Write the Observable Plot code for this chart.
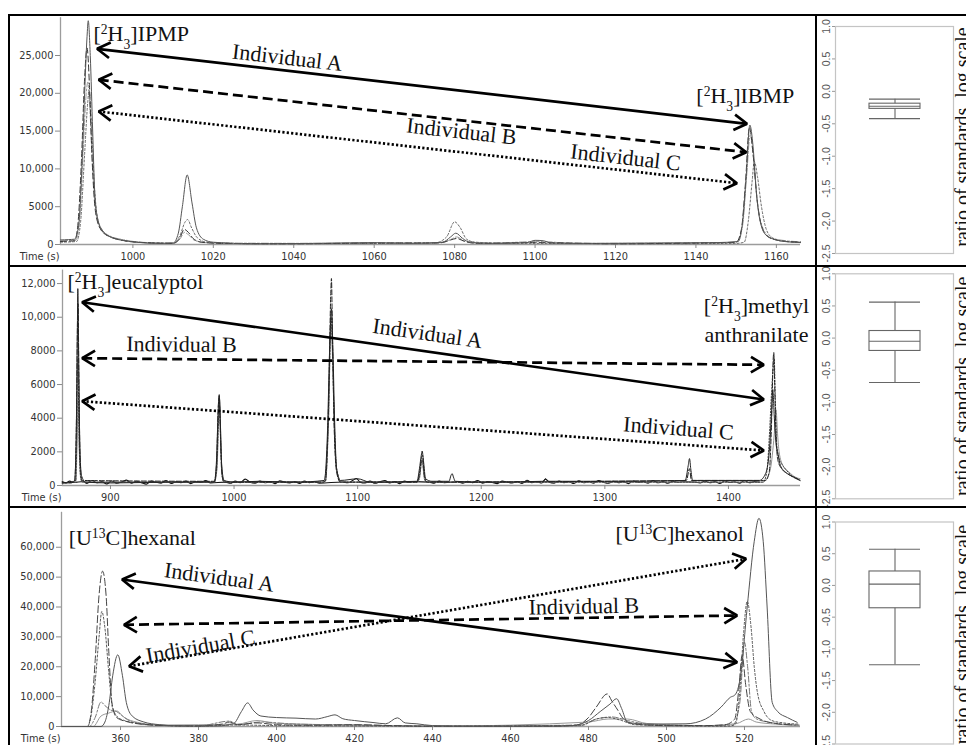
<!DOCTYPE html>
<html><head><meta charset="utf-8">
<script src="https://cdn.jsdelivr.net/npm/d3@7"></script>
<script src="https://cdn.jsdelivr.net/npm/@observablehq/plot@0.6"></script>
<style>
html,body{margin:0;padding:0;background:#fff;overflow:hidden;}
#wrap{position:relative;width:966px;height:745px;overflow:hidden;background:#fff;}
.p{position:absolute;}
.b{position:absolute;background:#000;z-index:5;}
</style></head><body><div id="wrap"></div>
<script>
// ---------------- DATA ----------------
const timeLabel = ["Time (s)"];
const yLabel = ["ratio of standards, log scale"];

// Row 1 ticks
const r1XTicks = [1000,1020,1040,1060,1080,1100,1120,1140,1160];
const r1YTicks = [0,5000,10000,15000,20000,25000];
const r1YLabels = ["0","5000","10,000","15,000","20,000","25,000"];
// Row 2 ticks
const r2XTicks = [900,1000,1100,1200,1300,1400];
const r2YTicks = [0,2000,4000,6000,8000,10000,12000];
const r2YLabels = ["0","2000","4000","6000","8000","10,000","12,000"];
// Row 3 ticks
const r3XTicks = [360,380,400,420,440,460,480,500,520];
const r3YTicks = [0,10000,20000,30000,40000,50000,60000];
const r3YLabels = ["0","10,000","20,000","30,000","40,000","50,000","60,000"];
// Box plot ticks
const boxTicks = [-2.5,-2,-1.5,-1,-0.5,0,0.5,1];
const boxTickLabels = ["-2.5","-2.0","-1.5","-1.0","-0.5","0.0","0.5","1.0"];

// Row 1 traces [time, intensity]
const r1Solid = [[982,600],[984,650],[985.5,700],[986.5,2500],[987.3,10000],[988,20000],[988.6,27500],[988.9,29600],[989.4,25000],[990,15000],[990.5,7000],[991.2,3500],[992.5,1800],[994,1100],[997,600],[1001,300],[1006,150],[1010,200],[1011.3,1500],[1012.3,5000],[1013.5,9200],[1014.7,5500],[1015.8,2200],[1017.5,700],[1020,300],[1030,100],[1045,150],[1060,250],[1070,150],[1077,300],[1079,1000],[1080.3,1500],[1082,800],[1084,250],[1090,150],[1098,250],[1100,550],[1102,500],[1104,200],[1115,150],[1130,200],[1145,250],[1150.5,400],[1151.5,2500],[1152.5,9000],[1153.4,15800],[1154.2,13000],[1155,7000],[1156,3000],[1157.5,1200],[1160,600],[1163,350],[1166,250]];
const r1Dashed = [[982,400],[985.5,500],[986.3,2500],[987.2,11000],[988,22000],[988.6,26000],[989.2,21000],[989.8,12000],[990.4,6000],[991.2,3000],[992.5,1700],[994.5,1000],[998,500],[1003,250],[1010,150],[1011.5,700],[1012.8,2000],[1013.8,1600],[1015,800],[1017,300],[1022,150],[1040,100],[1060,200],[1076,200],[1079,600],[1080.5,800],[1082.5,400],[1086,150],[1100,250],[1120,100],[1140,200],[1150,300],[1151.3,2000],[1152.3,8000],[1153.3,15500],[1154.2,12000],[1155.2,6000],[1156.3,2500],[1158,1000],[1161,500],[1166,300]];
const r1Dotted = [[982,300],[986,400],[987,3000],[988,12000],[988.8,19000],[989.1,20400],[989.7,16000],[990.4,8000],[991.2,3500],[992.5,1600],[995,900],[999,400],[1005,200],[1010,150],[1011.7,1200],[1013,3000],[1013.6,3300],[1014.6,2200],[1016,900],[1018.5,300],[1030,100],[1060,150],[1075,200],[1078,1000],[1080,3000],[1081.3,2300],[1083,700],[1086,200],[1100,150],[1130,100],[1150,150],[1152,300],[1153,3000],[1154,8500],[1154.5,11000],[1155.3,9000],[1156.3,5000],[1157.5,2000],[1159,900],[1162,400],[1166,300]];
const r1DashDot = [[982,500],[985.8,600],[986.7,3000],[987.6,12000],[988.4,20000],[988.8,21500],[989.4,17000],[990.1,9000],[990.8,4500],[992,2200],[994,1200],[998,600],[1004,250],[1010,200],[1011.8,800],[1012.8,1600],[1013.8,1300],[1015.5,500],[1020,200],[1050,150],[1077,250],[1079.5,800],[1080.5,1000],[1082.5,500],[1090,200],[1101,400],[1110,150],[1150,250],[1151.6,2500],[1152.6,9000],[1153.5,14500],[1154.4,11000],[1155.4,5000],[1156.8,2000],[1159,800],[1166,350]];

// Row 2 traces
const r2Solid = [[861,200],[868,150],[871,300],[872.3,3000],[873.2,9000],[873.6,11700],[874.2,8000],[875.2,2500],[876.5,600],[880,200],[900,150],[950,200],[984,200],[985.8,1500],[987.2,4500],[988,5400],[988.8,4000],[990,1200],[992,300],[1000,200],[1020,250],[1050,200],[1073,300],[1075.5,3000],[1077.5,8500],[1078.8,10500],[1080,8000],[1081.5,3500],[1083,1000],[1086,300],[1100,400],[1110,200],[1148,250],[1150,1000],[1151.5,1800],[1152.2,2050],[1153.2,1500],[1155,400],[1160,250],[1174,250],[1175.5,600],[1176.5,700],[1177.5,500],[1179,250],[1200,200],[1250,250],[1252,400],[1254,250],[1300,250],[1365,300],[1367.5,1200],[1368.5,1600],[1369.5,1000],[1371,300],[1425,300],[1430,700],[1433,2000],[1435,4500],[1435.9,5700],[1437,4200],[1438.5,2500],[1440,1900],[1442,1200],[1446,800],[1450,600],[1455.5,400],[1458,300]];
const r2Dashed = [[861,150],[871,200],[872.5,4000],[873.4,10000],[873.8,10800],[874.5,6000],[875.5,1500],[877,300],[984,250],[985.8,1200],[987.3,4800],[988,5300],[988.8,3500],[990,800],[992,200],[1072,200],[1074,300],[1076.5,5000],[1078.3,11500],[1078.8,12300],[1079.6,9000],[1081,3500],[1083,800],[1086,200],[1148,200],[1150,700],[1151.8,1700],[1152.5,1800],[1154,600],[1156,200],[1366,300],[1368.5,1000],[1370,300],[1430,300],[1433,800],[1435,4000],[1436.2,7500],[1436.7,7900],[1437.4,6000],[1438.5,3000],[1440,1500],[1443,1000],[1448,700],[1455,400],[1458,300]];
const r2Dotted = [[861,150],[872,300],[872.8,3000],[873.6,7500],[874.4,4000],[875.5,800],[877,200],[984,200],[986,1000],[987.5,4000],[988.2,4800],[989,3000],[990.5,500],[992,200],[1072,200],[1074,250],[1076.5,4000],[1078.5,10000],[1079.5,8500],[1081,4000],[1083,1000],[1087,200],[1148,200],[1150,500],[1152.2,1500],[1154,400],[1156,200],[1428,200],[1431,800],[1433.5,3500],[1434.5,5000],[1436.2,7000],[1437,7600],[1437.8,5500],[1439,2500],[1441,1600],[1443,1300],[1447,900],[1451,600],[1456,400],[1458,300]];
const r2Gray = [[861,150],[872,200],[873,2500],[873.8,5000],[874.6,2500],[876,400],[878,200],[984,200],[986.2,1000],[987.8,4500],[988.4,5100],[989.2,3000],[990.5,500],[992,200],[1071,200],[1073,300],[1076,3000],[1078.5,9500],[1079.5,8000],[1081.5,2500],[1084,500],[1087,200],[1148,200],[1150,400],[1152,1600],[1153.5,800],[1155,200],[1428,200],[1430,300],[1434,1000],[1437,3000],[1438.5,4500],[1439.8,3000],[1441,2000],[1444,1200],[1449,800],[1454,500],[1458,400]];
const r2Noise = [[861,220],[864,150],[867,260],[870,180],[878,240],[881,120],[885,300],[889,160],[893,230],[897,90],[901,270],[905,140],[909,210],[913,320],[917,130],[921,250],[925,170],[929,80],[933,260],[937,190],[941,140],[945,300],[949,120],[953,220],[957,170],[961,260],[965,110],[969,230],[973,180],[977,290],[981,150],[993,200],[997,130],[1001,260],[1005,170],[1009,380],[1013,200],[1017,140],[1021,270],[1025,160],[1029,230],[1033,110],[1037,280],[1041,190],[1045,150],[1049,240],[1053,120],[1057,260],[1061,170],[1065,220],[1069,140],[1088,210],[1092,160],[1096,300],[1099,420],[1102,200],[1106,150],[1110,260],[1114,130],[1118,220],[1122,300],[1126,150],[1130,240],[1134,110],[1138,260],[1142,180],[1146,230],[1158,200],[1162,140],[1166,260],[1170,170],[1181,220],[1185,130],[1189,250],[1193,170],[1197,300],[1201,140],[1205,230],[1209,180],[1213,110],[1217,260],[1221,200],[1225,150],[1229,240],[1233,120],[1237,310],[1241,170],[1245,220],[1249,150],[1252,380],[1255,200],[1259,140],[1263,260],[1267,170],[1271,220],[1275,120],[1279,280],[1283,160],[1287,230],[1291,140],[1295,300],[1299,190],[1303,130],[1307,250],[1311,170],[1315,230],[1319,110],[1323,270],[1327,180],[1331,220],[1335,140],[1339,290],[1343,160],[1347,230],[1351,130],[1355,250],[1359,190],[1363,220],[1373,200],[1377,150],[1381,260],[1385,170],[1389,230],[1393,120],[1397,270],[1401,180],[1405,220],[1409,140],[1413,280],[1417,170],[1421,230],[1425,200]];

// Row 3 traces
const r3Solid = [[345,0],[355,0],[356,1500],[357,7000],[358,17000],[359.3,24000],[360.5,17000],[361.5,8000],[363,3500],[366,1500],[370,600],[375,200],[385,200],[389,1000],[391,5000],[392.6,7900],[394,5500],[396,3500],[400,3000],[405,2800],[410,2500],[413,3300],[415,3900],[417,2600],[420,2000],[425,1300],[428,900],[431,2900],[433,1200],[436,900],[440,300],[450,100],[470,100],[476,300],[480,2000],[483,5000],[485.5,7500],[487.2,9300],[488.5,6000],[490,1400],[495,800],[505,900],[510,2500],[514,6500],[516.4,9800],[517.5,10500],[519,17000],[520.7,40000],[522.5,62000],[523.7,69700],[524.8,62000],[525.8,40000],[527.1,8100],[528.5,5000],[531,3000],[533.5,1400]];
const r3Dashed = [[345,0],[351.5,0],[352.5,5000],[353.5,22000],[354.5,44000],[355.4,52000],[356.3,44000],[357,25000],[357.8,8000],[359,3000],[362,1500],[366,700],[372,300],[380,200],[386,800],[388,1500],[390,600],[395,1200],[400,600],[410,400],[420,600],[430,300],[440,100],[470,100],[477,500],[480,3000],[482,6500],[484.8,10900],[486,8500],[487.5,5500],[489,2500],[492,800],[500,300],[510,300],[515,600],[517.5,2500],[518.5,12000],[519.4,23800],[520.3,14000],[521.5,5000],[524,2500],[528,1000],[533,500]];
const r3Dotted = [[345,0],[351.5,0],[352.5,4000],[353.5,15000],[354.5,30000],[355.2,38500],[356,33000],[357,18000],[358,6000],[360,2500],[365,1000],[372,300],[380,100],[390,500],[400,300],[420,200],[440,100],[478,300],[482,2500],[485,3000],[488,2200],[492,600],[505,200],[516,100],[517.7,800],[518.8,12000],[519.8,32000],[520.7,41900],[521.7,33000],[522.5,20000],[523.3,11500],[525,5000],[527,2000],[530,1200],[534,800]];
const r3DashDot = [[345,0],[352,0],[353.5,3000],[355,8200],[356,7000],[357.5,5500],[359,5000],[360.5,3500],[363,1500],[368,500],[380,200],[388,1800],[390,600],[396,1500],[405,800],[420,500],[440,100],[478,500],[482,2500],[486,3200],[490,2000],[495,800],[510,300],[517,500],[518.8,8000],[520,28200],[520.8,20000],[521.8,5000],[523,2600],[526,1500],[530,800],[534,500]];
const r3Light = [[345,0],[353,0],[355,3500],[357,4500],[359,5200],[361,3000],[364,1500],[370,500],[390,800],[395,2000],[400,1000],[420,500],[440,100],[480,1500],[485,2500],[490,2500],[495,1000],[510,300],[518,1000],[521,2500],[523,1500],[528,800],[534,300]];

// Arrows (double headed): start / end in data units
const r1Arrows = [
  {style:"solid",  x1:991.1, y1:25886, x2:1152.7, y2:15966},
  {style:"dashed", x1:991.5, y1:21786, x2:1152.5, y2:12209},
  {style:"dotted", x1:991.5, y1:17593, x2:1150.2, y2:8108}];
const r2Arrows = [
  {style:"solid",  x1:877.1, y1:10891, x2:1428.6, y2:5110},
  {style:"dashed", x1:877.1, y1:7564,  x2:1428.6, y2:7172},
  {style:"dotted", x1:877.1, y1:5009,  x2:1428.6, y2:2080}];
const r3Arrows = [
  {style:"solid",  x1:360.4, y1:49197, x2:518.1, y2:21519},
  {style:"dashed", x1:360.9, y1:34036, x2:518.1, y2:37149},
  {style:"dotted", x1:362.2, y1:20181, x2:520.4, y2:56124}];

// Text labels
const r1Labels = [
  {text:"[²H₃]IPMP", t:990.2, v:26984, kind:"name", anchor:"start", rot:0},
  {text:"[²H₃]IBMP", t:1140.1, v:18651, kind:"name", anchor:"start", rot:0},
  {text:"Individual A", t:1038.4, v:24700, kind:"ind", rot:6.6},
  {text:"Individual B", t:1081.7, v:14947, kind:"ind", rot:6.4},
  {text:"Individual C", t:1122.5, v:11508, kind:"ind", rot:6.4}];
const r2Labels = [
  {text:"[²H₃]eucalyptol", t:865.2, v:11705, kind:"name", anchor:"start", rot:0},
  {text:"[²H₃]methyl", t:1422.7, v:10250, kind:"name", anchor:"middle", rot:0},
  {text:"anthranilate", t:1422.7, v:8556, kind:"name", anchor:"middle", rot:0},
  {text:"Individual A", t:1156.5, v:9031, kind:"ind", rot:8.1},
  {text:"Individual B", t:957.5, v:8378, kind:"ind", rot:0.5},
  {text:"Individual C", t:1359.6, v:3387, kind:"ind", rot:4.5}];
const r3Labels = [
  {text:"[U¹³C]hexanal", t:346.7, v:60810, kind:"name", anchor:"start", rot:0},
  {text:"[U¹³C]hexanol", t:486.9, v:62249, kind:"name", anchor:"start", rot:0},
  {text:"Individual A", t:385.3, v:49866, kind:"ind", rot:7.7},
  {text:"Individual B", t:478.8, v:40161, kind:"ind", rot:-1},
  {text:"Individual C", t:380.5, v:26774, kind:"ind", rot:-9.9}];

// Box plot summaries (log ratio)
const box1 = {lo:-0.42, q1:-0.27, med:-0.23, q3:-0.19, hi:-0.12};
const box2 = {lo:-0.69, q1:-0.20, med:-0.05, q3:0.11, hi:0.56};
const box3 = {lo:-1.25, q1:-0.36, med:0.02, q3:0.22, hi:0.57};

// ---------------- RENDERING ----------------
const SERIF = "'Liberation Serif','Times New Roman',serif";
const SANS = "'DejaVu Sans',Verdana,sans-serif";
const dashOf = {solid:null, dashed:"10,5", dotted:"2.2,2.2"};
const wrap = document.getElementById("wrap");

function place(el, left, top) {
  el.classList.add("p");
  el.style.left = left + "px"; el.style.top = top + "px";
  wrap.appendChild(el);
}

function headsFor(arrows, X, Y, len, ang) {
  const fx = v => X.px[0] + (v - X.domain[0]) * (X.px[1]-X.px[0])/(X.domain[1]-X.domain[0]);
  const gx = p => X.domain[0] + (p - X.px[0]) * (X.domain[1]-X.domain[0])/(X.px[1]-X.px[0]);
  const fy = v => Y.px[0] + (v - Y.domain[0]) * (Y.px[1]-Y.px[0])/(Y.domain[1]-Y.domain[0]);
  const gy = p => Y.domain[0] + (p - Y.px[0]) * (Y.domain[1]-Y.domain[0])/(Y.px[1]-Y.px[0]);
  const out = [];
  const r = ang * Math.PI / 180;
  arrows.forEach((a, i) => {
    [[a.x1,a.y1,a.x2,a.y2],[a.x2,a.y2,a.x1,a.y1]].forEach(([tx,ty,ox,oy], j) => {
      const px = fx(tx), py = fy(ty), qx = fx(ox), qy = fy(oy);
      const L = Math.hypot(qx-px, qy-py), ux = (qx-px)/L, uy = (qy-py)/L;
      const w = s => [px + len*(ux*Math.cos(s*r) - uy*Math.sin(s*r)), py + len*(ux*Math.sin(s*r) + uy*Math.cos(s*r))];
      const [ax, ay] = w(1), [bx, by] = w(-1);
      const id = i + "-" + j;
      out.push({id, t:gx(ax), v:gy(ay)}, {id, t:tx, v:ty}, {id, t:gx(bx), v:gy(by)});
    });
  });
  return out;
}

const SVGNS = "http://www.w3.org/2000/svg";
function richText(svg) {
  for (const t of svg.querySelectorAll("text")) {
    const s = t.textContent;
    if (!/[¹²³₃]/.test(s) || t.children.length) continue;
    t.textContent = "";
    for (const seg of s.match(/[¹²³]+|₃+|[^¹²³₃]+/g)) {
      const ts = document.createElementNS(SVGNS, "tspan");
      if (/[¹²³]/.test(seg)) {
        ts.textContent = seg.replace(/¹/g,"1").replace(/²/g,"2").replace(/³/g,"3");
        ts.style.fontSize = "62%"; ts.setAttribute("baseline-shift", "super");
      } else if (/₃/.test(seg)) {
        ts.textContent = seg.replace(/₃/g,"3");
        ts.style.fontSize = "62%"; ts.setAttribute("baseline-shift", "sub");
      } else ts.textContent = seg;
      t.appendChild(ts);
    }
  }
}

function chromPlot(P) {
  const X = P.x, Y = P.y;
  const yMap = new Map(P.yTicks.map((d, i) => [d, P.yLabels[i]]));
  const marks = [
    Plot.ruleY([Y.domain[0]], {stroke:"#9c9c9c", strokeWidth:1.3}),
    Plot.ruleX([X.domain[0]], {stroke:"#9c9c9c", strokeWidth:1.3}),
    Plot.axisX({ticks:P.xTicks, tickSize:4, tickPadding:5, stroke:"#8a8a8a", fill:"#333", label:null, tickFormat:d => String(d)}),
    Plot.axisY({ticks:P.yTicks, tickSize:5, tickPadding:2, stroke:"#8a8a8a", fill:"#333", label:null, tickFormat:d => yMap.get(d)}),
    Plot.text(timeLabel, {frameAnchor:"bottom-left", text:d => d, textAnchor:"end", lineAnchor:"top", dx:-1, dy:9, fill:"#333"})
  ];
  for (const tr of P.traces) {
    marks.push(Plot.line(tr.data, {x:d => d[0], y:d => d[1], stroke:tr.color, strokeWidth:tr.w, strokeDasharray:tr.dash, curve:"monotone-x"}));
  }
  for (const a of P.arrows) {
    marks.push(Plot.link([a], {x1:"x1", y1:"y1", x2:"x2", y2:"y2", stroke:"#000", strokeWidth:2.7, strokeDasharray:dashOf[a.style]}));
  }
  marks.push(Plot.line(headsFor(P.arrows, X, Y, 15, 31), {x:"t", y:"v", z:"id", stroke:"#000", strokeWidth:2.7, strokeLinejoin:"miter", strokeLinecap:"butt"}));
  const lab = P.labels;
  const common = {x:"t", y:"v", text:"text", fontFamily:SERIF, fontSize:22, fill:"#111"};
  marks.push(Plot.text(lab.filter(d => d.kind === "name" && d.anchor === "start"), {...common, textAnchor:"start", lineAnchor:"bottom"}));
  marks.push(Plot.text(lab.filter(d => d.kind === "name" && d.anchor === "middle"), {...common, textAnchor:"middle", lineAnchor:"bottom"}));
  marks.push(Plot.text(lab.filter(d => d.kind === "ind"), {...common, textAnchor:"middle", lineAnchor:"middle", rotate:d => d.rot}));
  const svg = Plot.plot({
    width:P.width, height:P.height,
    marginLeft:X.px[0]-P.left, marginRight:P.left+P.width-X.px[1],
    marginTop:Y.px[1]-P.top, marginBottom:P.top+P.height-Y.px[0],
    style:{fontFamily:SANS, fontSize:"9.8px", color:"#333", background:"transparent", overflow:"visible"},
    x:{domain:X.domain, range:[X.px[0]-P.left, X.px[1]-P.left]},
    y:{domain:Y.domain, range:[Y.px[0]-P.top, Y.px[1]-P.top]},
    marks
  });
  richText(svg);
  place(svg, P.left, P.top);
}

function boxPlot(B, stats) {
  const left = 818, width = 160, fx0 = 835, fx1 = 953;
  const lab = new Map(boxTicks.map((d, i) => [d, boxTickLabels[i]]));
  const k = () => "r";
  const svg = Plot.plot({
    width, height:B.height,
    marginLeft:fx0-left, marginRight:left+width-fx1,
    marginTop:B.yPx[1]-B.top, marginBottom:B.top+B.height-B.yPx[0],
    style:{fontFamily:"'Liberation Sans',Arial,sans-serif", fontSize:"10.5px", color:"#555", background:"transparent", overflow:"visible"},
    x:{type:"band", domain:["r"], padding:0.397, axis:null},
    y:{domain:[-2.5, 1], range:[B.yPx[0]-B.top, B.yPx[1]-B.top], axis:null},
    marks:[
      Plot.frame({stroke:"#c4c4c4", strokeWidth:1.2}),
      Plot.axisY({ticks:boxTicks, tickFormat:d => lab.get(d), tickSize:3, tickPadding:3, tickRotate:-90, stroke:"#999", fill:"#555", label:null}),
      Plot.ruleX([stats], {x:k, y1:"lo", y2:"hi", stroke:"#666", strokeWidth:1.1}),
      Plot.barY([stats], {x:k, y1:"q1", y2:"q3", fill:"#fff", stroke:"#666", strokeWidth:1.1}),
      Plot.tickY([stats], {x:k, y:"med", stroke:"#666", strokeWidth:1.1}),
      Plot.tickY([stats], {x:k, y:"lo", stroke:"#666", strokeWidth:1.1}),
      Plot.tickY([stats], {x:k, y:"hi", stroke:"#666", strokeWidth:1.1}),
      Plot.text(yLabel, {frameAnchor:"right", text:d => d, rotate:-90, textAnchor:"middle", lineAnchor:"bottom", dx:15, dy:B.dy, fontFamily:SERIF, fontSize:20, fill:"#111"})
    ]
  });
  place(svg, left, B.top);
}

// Row 1
chromPlot({
  left:10, top:16, width:806, height:250,
  x:{domain:[982, 1166], px:[60, 800]},
  y:{domain:[0, 30000], px:[244, 17.2]},
  xTicks:r1XTicks, yTicks:r1YTicks, yLabels:r1YLabels,
  traces:[
    {data:r1DashDot, color:"#9a9a9a", w:1, dash:"7,2,2,2"},
    {data:r1Dotted, color:"#6a6a6a", w:1, dash:"2,2"},
    {data:r1Dashed, color:"#333", w:1, dash:"6,3"},
    {data:r1Solid, color:"#555", w:1, dash:null}],
  arrows:r1Arrows, labels:r1Labels
});
// Row 2
chromPlot({
  left:10, top:267, width:806, height:240,
  x:{domain:[861.2, 1458.3], px:[62, 800]},
  y:{domain:[0, 12800], px:[485, 269.6]},
  xTicks:r2XTicks, yTicks:r2YTicks, yLabels:r2YLabels,
  traces:[
    {data:r2Noise, color:"#111", w:1.1, dash:null},
    {data:r2Gray, color:"#888", w:0.9, dash:null},
    {data:r2Dotted, color:"#444", w:1, dash:"1.5,1.5"},
    {data:r2Dashed, color:"#222", w:1, dash:"5,2"},
    {data:r2Solid, color:"#222", w:1, dash:null}],
  arrows:r2Arrows, labels:r2Labels
});
// Row 3
chromPlot({
  left:10, top:508, width:806, height:245,
  x:{domain:[344.87, 534.36], px:[61, 800]},
  y:{domain:[0, 71700], px:[726, 511.8]},
  xTicks:r3XTicks, yTicks:r3YTicks, yLabels:r3YLabels,
  traces:[
    {data:r3Light, color:"#999", w:1, dash:null},
    {data:r3DashDot, color:"#777", w:1, dash:"6,2,2,2"},
    {data:r3Dotted, color:"#555", w:1, dash:"2,2"},
    {data:r3Dashed, color:"#444", w:1, dash:"7,3"},
    {data:r3Solid, color:"#555", w:1, dash:null}],
  arrows:r3Arrows, labels:r3Labels
});

boxPlot({top:16, height:250, yPx:[253, 26], dy:-3}, box1);
boxPlot({top:267, height:240, yPx:[498.3, 273.3], dy:0}, box2);
boxPlot({top:508, height:245, yPx:[743.5, 521.5], dy:1.5}, box3);

// Panel borders
[[8,14,960,2],[8,14,2,735],[8,265,960,2],[8,506,960,2],[815,14,2,735]].forEach(([l,t,w,h]) => {
  const d = document.createElement("div");
  d.className = "b";
  Object.assign(d.style, {left:l+"px", top:t+"px", width:w+"px", height:h+"px"});
  wrap.appendChild(d);
});
</script></body></html>
